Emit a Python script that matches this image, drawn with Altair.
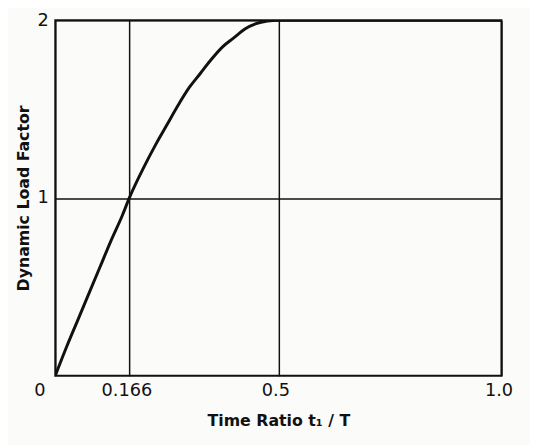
import altair as alt
import pandas as pd

# Curve
ratio = [0.0, 0.025, 0.05, 0.075, 0.10, 0.125, 0.15, 0.166, 0.20, 0.225, 0.25, 0.275,
         0.30, 0.325, 0.35, 0.375, 0.40, 0.425, 0.45, 0.475, 0.50, 0.75, 1.0]
dlf = [0.0, 0.16, 0.31, 0.46, 0.61, 0.76, 0.90, 1.0, 1.18, 1.30, 1.41, 1.52,
       1.62, 1.70, 1.78, 1.85, 1.90, 1.95, 1.98, 1.995, 2.0, 2.0, 2.0]

x_ticks = [0, 0.166, 0.5, 1.0]
x_labels = ["0", "0.166", "0.5", "1.0"]
y_ticks = [1, 2]

df = pd.DataFrame({"ratio": ratio, "dlf": dlf})

label_expr = " : ".join(
    f"abs(datum.value - {v}) < 0.001 ? '{l}'" for v, l in zip(x_ticks, x_labels)
) + " : ''"

FONT = "DejaVu Sans"

x_axis = alt.Axis(
    values=x_ticks,
    labelExpr=label_expr,
    title="Time Ratio  t\u2081 / T",
    titleFont=FONT, titleFontSize=16, titleFontWeight="bold", titleColor="#111",
    titlePadding=14,
    labelFont=FONT, labelFontSize=18, labelColor="#111", labelPadding=6,
    labelOffset=alt.ConditionalAxisNumber(
        condition={"test": "datum.value == 0", "value": -16},
        value=-3,
    ),
    ticks=False, domain=False,
    grid=True, gridColor="#111", gridWidth=1.5,
    labelFlush=False, labelOverlap=False,
)

y_axis = alt.Axis(
    values=y_ticks,
    format="d",
    title="Dynamic Load Factor",
    titleFont=FONT, titleFontSize=16, titleFontWeight="bold", titleColor="#111",
    titlePadding=6,
    labelFont=FONT, labelFontSize=18, labelColor="#111", labelPadding=7,
    ticks=False, domain=False,
    grid=True, gridColor="#111", gridWidth=1.5,
    labelFlush=False,
)

chart = alt.Chart(df).mark_line(
    color="#111", strokeWidth=3, interpolate="monotone", clip=True
).encode(
    x=alt.X("ratio:Q", scale=alt.Scale(domain=[0, 1], nice=False), axis=x_axis),
    y=alt.Y("dlf:Q", scale=alt.Scale(domain=[0, 2], nice=False), axis=y_axis),
).properties(
    width=453,
    height=361,
    background="#fbfbf9",
    padding={"left": 48, "top": 9, "right": 29, "bottom": 67},
    autosize=alt.AutoSizeParams(type="none"),
).configure_view(
    stroke="#111", strokeWidth=2
)

chart.save("out.html", embed_options={"renderer": "svg", "actions": False})
